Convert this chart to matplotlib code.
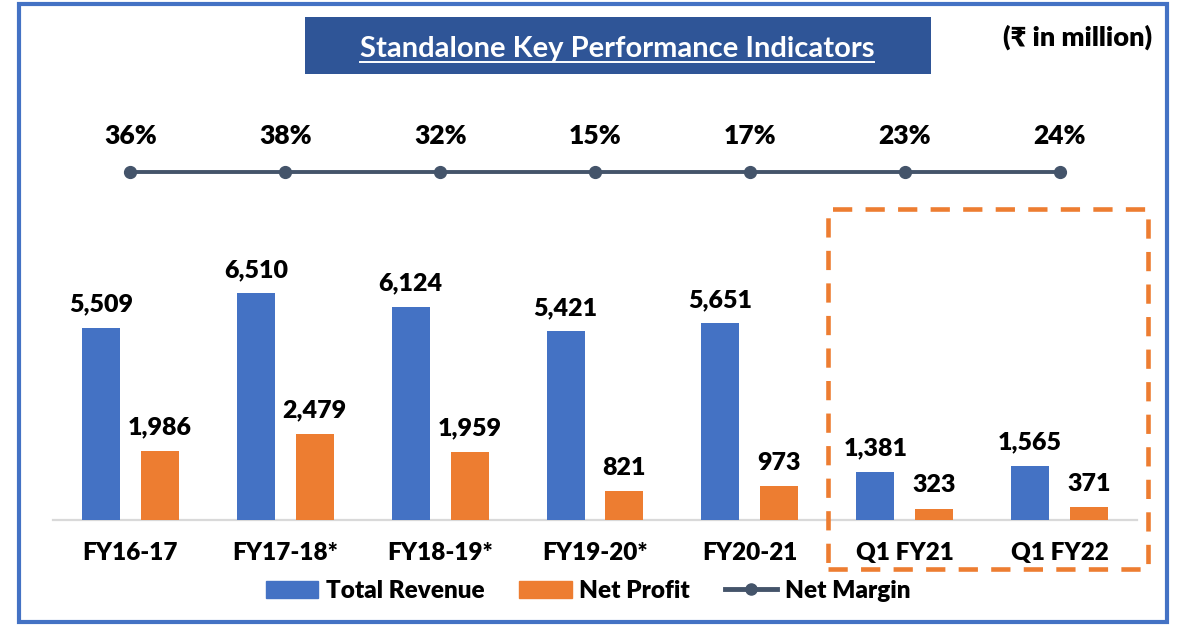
import numpy as np
import matplotlib
matplotlib.use("Agg")
import matplotlib.pyplot as plt
from matplotlib.patches import Rectangle, Patch
from matplotlib.lines import Line2D

plt.rcParams['font.family'] = ['Lato', 'DejaVu Sans']
plt.rcParams['font.weight'] = 'bold'

# standalone figures, Rs. million
periods = ['FY16-17', 'FY17-18*', 'FY18-19*', 'FY19-20*', 'FY20-21', 'Q1 FY21', 'Q1 FY22']
total_revenue = [5509, 6510, 6124, 5421, 5651, 1381, 1565]
net_profit = [1986, 2479, 1959, 821, 973, 323, 371]
net_margin = [36, 38, 32, 15, 17, 23, 24]

BLUE = '#4472C4'
ORANGE = '#ED7D31'
SLATE = '#44546A'
NAVY = '#2F5597'
HEAVY = 'heavy'

W, H = 1183, 627
fig = plt.figure(figsize=(W / 100, H / 100), dpi=100)
fig.patch.set_facecolor('white')


def fx(px):
    return px / W


def fy(py):
    return 1 - py / H


# bar area: baseline at y=520, top at y=100
ax = fig.add_axes([fx(53), fy(520), fx(1137 - 53), (520 - 100) / H])
x = np.arange(len(periods))
bw = 0.245
off = 0.19
b1 = ax.bar(x - off, total_revenue, bw, color=BLUE, zorder=3)
b2 = ax.bar(x + off, net_profit, bw, color=ORANGE, zorder=3)
ax.set_xlim(-0.5, len(periods) - 0.5)
ax.set_ylim(0, 12070)

for bars, vals in ((b1, total_revenue), (b2, net_profit)):
    for rect, v in zip(bars, vals):
        ax.annotate(f'{v:,}', (rect.get_x() + rect.get_width() / 2, v),
                    xytext=(0, 9), textcoords='offset points',
                    ha='center', va='bottom', fontsize=18, fontweight=HEAVY)

ax.set_xticks(x)
ax.set_xticklabels(periods, fontsize=17.5, fontweight=HEAVY)
ax.tick_params(axis='x', length=0, pad=16)
ax.set_yticks([])
for s in ('left', 'right', 'top'):
    ax.spines[s].set_visible(False)
ax.spines['bottom'].set_color('#D9D9D9')
ax.spines['bottom'].set_linewidth(1.6)
ax.set_facecolor('none')

# net margin drawn as a flat band above the bars
ax2 = ax.twinx()
ax2.set_ylim(0, 1)
level = np.full(len(net_margin), (520 - 172) / 420)
ax2.plot(x, level, color=SLATE, lw=2.8, marker='o', ms=8.5, zorder=4)
for xi, yi, m in zip(x, level, net_margin):
    ax2.annotate(f'{m}%', (xi, yi), xytext=(0, 17), textcoords='offset points',
                 ha='center', va='bottom', fontsize=19, fontweight=HEAVY)
ax2.set_yticks([])
for s in ax2.spines.values():
    s.set_visible(False)

# outer border
fig.patches.append(Rectangle((fx(19), fy(622)), fx(1167 - 19), (622 - 4) / H,
                             transform=fig.transFigure, fill=False,
                             edgecolor=BLUE, lw=3, zorder=0))

# title banner
fig.patches.append(Rectangle((fx(305), fy(74)), fx(931 - 305), (74 - 17) / H,
                             transform=fig.transFigure, facecolor=NAVY,
                             edgecolor='none', zorder=1))
title = fig.text(fx(617), fy(57), 'Standalone Key Performance Indicators',
                 ha='center', va='baseline', color='white', fontsize=21,
                 fontweight='bold', zorder=2)
fig.canvas.draw()
bb = title.get_window_extent().transformed(fig.transFigure.inverted())
fig.lines.append(Line2D([bb.x0, bb.x1], [fy(62), fy(62)], transform=fig.transFigure,
                        color='white', lw=1.4, zorder=2))

fig.text(fx(1152), fy(37), '(₹ in million)', ha='right', va='center',
         fontsize=19.5, fontweight=HEAVY)

# highlight box around the quarterly figures
fig.patches.append(Rectangle((fx(828), fy(569)), fx(1148 - 828), (569 - 209) / H,
                             transform=fig.transFigure, fill=False,
                             edgecolor=ORANGE, lw=3.3, linestyle=(0, (4.2, 2.9)),
                             zorder=5))

handles = [Patch(color=BLUE), Patch(color=ORANGE),
           Line2D([], [], color=SLATE, lw=3.5, marker='o', ms=8)]
fig.legend(handles, ['Total Revenue', 'Net Profit', 'Net Margin'],
           loc='center', bbox_to_anchor=(fx(588), fy(591)), ncol=3, frameon=False,
           prop={'size': 17.5, 'weight': HEAVY}, handlelength=2.15, handleheight=0.75,
           handletextpad=0.3, columnspacing=1.45)

fig.savefig('out.png', dpi=100)
